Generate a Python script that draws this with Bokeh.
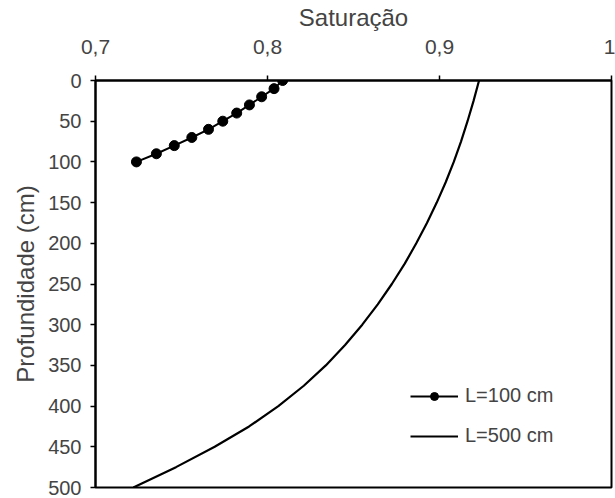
from bokeh.plotting import figure
from bokeh.models import (Range1d, FixedTicker, CustomJSTickFormatter, Legend, LegendItem)
from bokeh.embed import file_html
from bokeh.resources import INLINE

# ---- data ----
depth_100 = [0, 10, 20, 30, 40, 50, 60, 70, 80, 90, 100]
sat_100 = [0.8088, 0.8038, 0.7966, 0.7895, 0.7821, 0.7740, 0.7657, 0.7560, 0.7458, 0.7354, 0.7238]

depth_500 = [0, 25, 50, 75, 100, 125, 150, 175, 200, 225, 250, 275, 300, 325, 350, 375, 400, 425, 450, 475, 500]
sat_500 = [0.9230, 0.9198, 0.9163, 0.9125, 0.9083, 0.9036, 0.8984, 0.8927, 0.8865, 0.8798, 0.8723,
           0.8641, 0.8551, 0.8451, 0.8339, 0.8211, 0.8063, 0.7893, 0.7693, 0.7468, 0.7220]

x_ticks = [0.7, 0.8, 0.9, 1.0]
y_ticks = [0, 50, 100, 150, 200, 250, 300, 350, 400, 450, 500]

label_100 = "L=100 cm"
label_500 = "L=500 cm"
x_title = "Saturação"
y_title = "Profundidade (cm)"

FONT = "Liberation Sans"

p = figure(width=615, height=498, output_backend="svg", toolbar_location=None,
           x_axis_location="above", x_range=Range1d(0.7, 1.0), y_range=Range1d(500, 0),
           min_border_left=95, min_border_right=4, min_border_top=79, min_border_bottom=11)
p.background_fill_color = "white"
p.border_fill_color = "white"
p.outline_line_color = "black"
p.outline_line_width = 2
p.xgrid.visible = False
p.ygrid.visible = False

r_line100 = p.line(sat_100, depth_100, line_color="black", line_width=2)
r_dot100 = p.scatter(sat_100, depth_100, size=10, color="black")
r_line500 = p.line(sat_500, depth_500, line_color="black", line_width=2.2, line_join="round")

xa = p.xaxis[0]
xa.ticker = FixedTicker(ticks=x_ticks)
xa.formatter = CustomJSTickFormatter(code="return Math.abs(tick-1)<1e-9 ? '1' : tick.toFixed(1).replace('.', ',');")
xa.axis_label = x_title
xa.axis_label_text_font = FONT
xa.axis_label_text_font_style = "normal"
xa.axis_label_text_font_size = "24px"
xa.axis_label_standoff = 6
xa.major_label_text_font = FONT
xa.major_label_text_font_size = "21px"
xa.major_label_standoff = 22
xa.major_tick_out = 5
xa.major_tick_in = 0
xa.minor_tick_out = 0
xa.minor_tick_in = 0
xa.axis_line_width = 2
xa.major_tick_line_width = 1.5

ya = p.yaxis[0]
ya.ticker = FixedTicker(ticks=y_ticks)
ya.axis_label = y_title
ya.axis_label_text_font = FONT
ya.axis_label_text_font_style = "normal"
ya.axis_label_text_font_size = "24px"
ya.axis_label_standoff = 6
ya.major_label_text_font = FONT
ya.major_label_text_font_size = "20px"
ya.major_label_standoff = 9
ya.major_tick_out = 5
ya.major_tick_in = 0
ya.minor_tick_out = 0
ya.minor_tick_in = 0
ya.axis_line_width = 2
ya.major_tick_line_width = 1.5

legend = Legend(items=[LegendItem(label=label_100, renderers=[r_line100, r_dot100]),
                       LegendItem(label=label_500, renderers=[r_line500])],
                location=(315, 40), border_line_color=None, background_fill_alpha=0,
                label_text_font=FONT, label_text_font_size="20px",
                glyph_width=48, glyph_height=20, label_height=20, label_standoff=7,
                spacing=17, padding=8, margin=0)
p.add_layout(legend, "center")

open("out.html", "w").write(file_html(p, INLINE))
